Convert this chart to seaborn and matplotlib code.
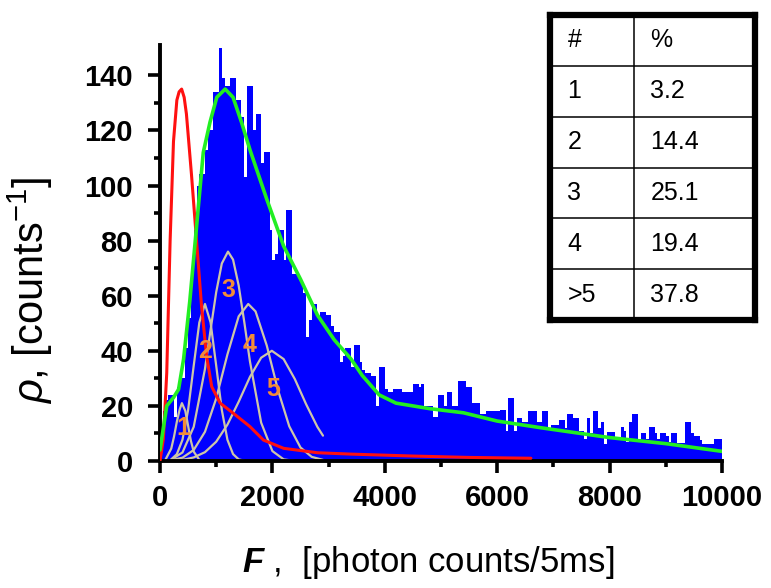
import numpy as np
import pandas as pd
import seaborn as sns
import matplotlib
matplotlib.use("Agg")
import matplotlib.pyplot as plt

# ---------------- data ----------------
bin_edges = list(range(0, 10001, 50))
counts = [
    8, 18, 22, 24, 24, 16, 27, 32, 30, 41,
    52, 69, 84, 100, 104, 104, 113, 120, 120, 134,
    134, 150, 139, 136, 136, 139, 139, 131, 131, 125,
    103, 136, 136, 120, 126, 126, 108, 112, 112, 84,
    73, 75, 84, 84, 73, 91, 91, 68, 68, 67,
    65, 61, 45, 51, 57, 57, 52, 54, 54, 53,
    53, 49, 47, 47, 36, 38, 41, 41, 34, 42,
    42, 36, 33, 32, 32, 31, 31, 20, 34, 34,
    26, 25, 25, 26, 26, 26, 25, 25, 25, 25,
    28, 28, 27, 28, 20, 20, 20, 16, 16, 24,
    24, 20, 25, 25, 20, 20, 29, 29, 29, 27,
    27, 21, 21, 21, 17, 17, 18, 18, 18, 18,
    18, 18.5, 18.5, 11, 23, 23, 11, 15.5, 15.5, 14,
    14, 18, 18, 18, 14, 14, 18, 18, 12, 13,
    13, 13, 15, 15, 12, 17, 17, 15.5, 15.5, 11,
    11, 8, 15.5, 10, 18, 18, 12, 14, 6, 10.5,
    10.5, 10.5, 8, 8, 12.5, 11, 7, 14, 17, 17,
    8, 10, 10, 8, 12.5, 12.5, 10, 8, 10, 10,
    9, 7, 10, 10, 6.5, 6.5, 6.5, 14, 14, 10,
    9, 9, 7.5, 6, 6, 6, 6, 8, 8, 8,
]

fit_F = [0, 60, 120, 240, 330, 420, 530, 650, 770, 890, 1010, 1160, 1300,
         1450, 1600, 1900, 2200, 2500, 2800, 3100, 3400, 3600, 3900, 4200,
         4800, 5400, 6000, 6800, 8000, 9000, 10000]
fit_val = [4, 12, 20, 23, 26, 37, 58, 85, 112, 123, 132, 135, 132,
           123, 113, 95, 78, 66, 53, 44, 37, 31, 24, 21,
           19, 17.5, 14.5, 12, 8.5, 6.3, 3.5]

red_F = [0, 60, 120, 180, 240, 300, 340, 385, 430, 470, 560, 650, 740, 830,
         920, 1070, 1300, 1600, 1840, 2200, 2800, 3400, 4500, 5500, 6600]
red_val = [0, 8, 32, 80, 116, 131, 134, 135, 132, 126, 104, 80, 56, 38,
           27, 21, 17.4, 12.5, 7.6, 4.6, 3, 2.5, 1.8, 1.3, 1.0]

comp1_F = [100, 200, 250, 300, 350, 390, 450, 500, 550, 600, 700, 800]
comp1_val = [0.6, 4.5, 8.9, 14.3, 18.7, 21, 18.2, 12.8, 7.3, 3.4, 0.4, 0]
comp2_F = [200, 300, 400, 500, 600, 700, 800, 900, 1000, 1100, 1200, 1300, 1400, 1500]
comp2_val = [0.6, 2.5, 7.7, 18.5, 34.6, 50.3, 57, 50.3, 34.6, 18.5, 7.7, 2.5, 0.6, 0.1]
comp3_F = [200, 400, 600, 800, 900, 1000, 1100, 1210, 1300, 1400, 1500, 1600, 1800, 2000, 2200, 2400]
comp3_val = [0.5, 3.1, 12.4, 33.4, 47.6, 61.3, 71.7, 76, 73.1, 63.7, 50.4, 36.2, 13.9, 3.6, 0.6, 0]
comp4_F = [200, 400, 600, 800, 1000, 1200, 1400, 1570, 1700, 1900, 2100, 2300, 2500, 2700, 2900]
comp4_val = [0.3, 1.2, 4.0, 10.6, 22.7, 38.7, 52.5, 57, 54.3, 41.9, 25.7, 12.6, 4.9, 1.5, 0.4]
comp5_F = [200, 400, 600, 800, 1000, 1200, 1400, 1600, 1800, 1990, 2200, 2400, 2600, 2800, 2900]
comp5_val = [0.1, 0.4, 1.3, 3.2, 7.0, 13.2, 21.5, 30.5, 37.5, 40, 37.0, 29.7, 20.6, 12.4, 9.2]

comp_labels = ["1", "2", "3", "4", "5"]
comp_label_F = [410, 800, 1210, 1600, 2010]
comp_label_val = [12, 40, 62, 42, 26]

table_header = ["#", "%"]
table_rows = [["1", "3.2"], ["2", "14.4"], ["3", "25.1"], ["4", "19.4"], [">5", "37.8"]]

x_ticks = [0, 2000, 4000, 6000, 8000, 10000]
y_ticks = [0, 20, 40, 60, 80, 100, 120, 140]

hist_df = pd.DataFrame({
    "F": [(a + b) / 2 for a, b in zip(bin_edges[:-1], bin_edges[1:])],
    "count": counts,
})

# ---------------- style ----------------
sns.set_style("ticks")
plt.rcParams["font.family"] = ["Liberation Sans", "DejaVu Sans"]
plt.rcParams["mathtext.fontset"] = "custom"
plt.rcParams["mathtext.rm"] = "Liberation Sans"
plt.rcParams["mathtext.it"] = "Liberation Sans:italic"
plt.rcParams["mathtext.bf"] = "Liberation Sans:bold:italic"
for key in ["text.color", "axes.labelcolor", "xtick.color", "ytick.color", "axes.edgecolor"]:
    plt.rcParams[key] = "black"

fig = plt.figure(figsize=(7.71, 5.88), dpi=100)
ax = fig.add_axes([160 / 771, 1 - 461 / 588, 562 / 771, 416 / 588])

sns.histplot(data=hist_df, x="F", weights="count", bins=bin_edges, element="step",
             fill=True, color="#0000FF", alpha=1, linewidth=0, ax=ax, zorder=1)

gray = "#CDC5A8"
comps = [(comp1_F, comp1_val), (comp2_F, comp2_val), (comp3_F, comp3_val),
         (comp4_F, comp4_val), (comp5_F, comp5_val)]
for cf, cv in comps:
    sns.lineplot(x=cf, y=cv, color=gray, linewidth=1.6, ax=ax, zorder=2)

sns.lineplot(x=red_F, y=red_val, color="#FF1010", linewidth=2.2, ax=ax, zorder=3)
sns.lineplot(x=fit_F, y=fit_val, color="#22EE22", linewidth=2.6, ax=ax, zorder=4)

for lab, lf, lv in zip(comp_labels, comp_label_F, comp_label_val):
    ax.text(lf, lv, lab, color="#F28C38", fontsize=18, fontweight="bold",
            ha="center", va="center", zorder=5)

ax.set_xlim(0, 10000)
ax.set_ylim(0, 151)
ax.set_xticks(x_ticks)
ax.set_yticks(y_ticks)
ax.set_xticks(np.arange(1000, 10000, 2000), minor=True)
ax.set_yticks(np.arange(10, 150, 20), minor=True)
ax.tick_params(axis="both", which="major", direction="out", length=8.5, width=2.6,
               labelsize=21, color="black", labelcolor="black")
ax.tick_params(axis="y", which="major", pad=11)
ax.tick_params(axis="x", which="major", pad=8)
ax.tick_params(axis="both", which="minor", direction="out", length=4.5, width=2.6,
               color="black")
for lbl in ax.get_xticklabels() + ax.get_yticklabels():
    lbl.set_fontweight("bold")
sns.despine(ax=ax)
for s in ["left", "bottom"]:
    ax.spines[s].set_linewidth(2.8)
    ax.spines[s].set_color("black")

ax.set_xlabel(r"$\mathbf{F}$ ,  [photon counts/5ms]", fontsize=25, color="black")
ax.set_ylabel(r"$\rho$, [counts$^{\mathregular{-1}}$]", fontsize=30, color="black")
ax.xaxis.set_label_coords(0.477, -0.2)
ax.yaxis.set_label_coords(-0.187, 0.41)

# ---------------- table ----------------
tax = fig.add_axes([550 / 771, 1 - 320 / 588, 205 / 771, 305 / 588])
tax.set_xlim(0, 1)
tax.set_ylim(0, 6)
tax.set_xticks([])
tax.set_yticks([])
for s in tax.spines.values():
    s.set_linewidth(4.5)
    s.set_color("black")
    s.set_visible(True)
tax.axvline(0.41, color="black", linewidth=1.1)
for r in range(1, 6):
    tax.axhline(r, color="black", linewidth=1.1)
all_rows = [table_header] + table_rows
for i, (c1, c2) in enumerate(all_rows):
    yc = 6 - i - 0.5
    tax.text(0.085, yc, c1, fontsize=18, ha="left", va="center", color="black")
    tax.text(0.49, yc, c2, fontsize=18, ha="left", va="center", color="black")

fig.savefig("out.png", dpi=100)
